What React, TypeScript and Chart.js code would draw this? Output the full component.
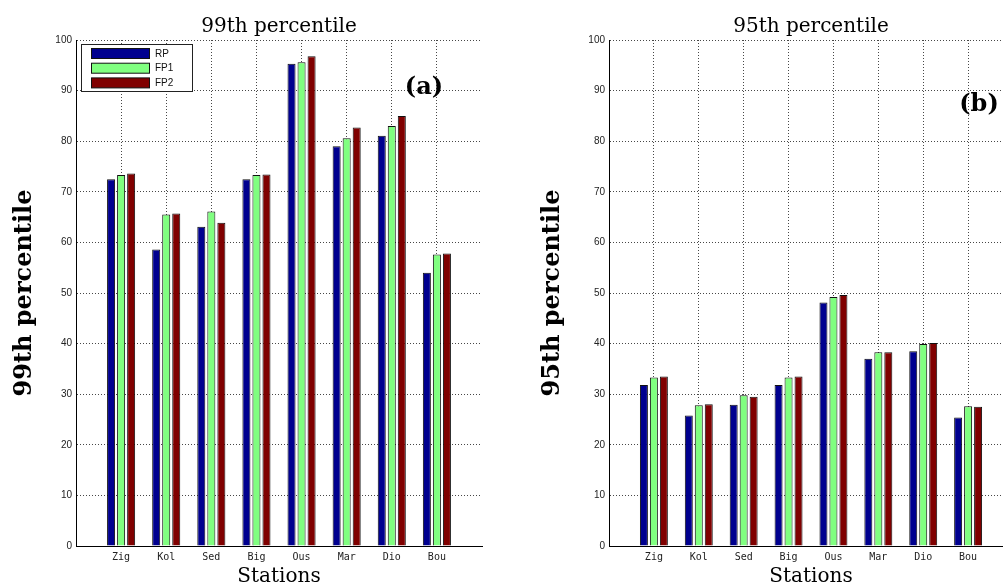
import React, { useEffect, useRef } from 'react';
import { Chart, registerables } from 'chart.js';

Chart.register(...registerables);

// Station codes along the x axis (positions 1..8, axis runs 0..9)
const stations = ['Zig', 'Kol', 'Sed', 'Big', 'Ous', 'Mar', 'Dio', 'Bou'];

const seriesNames = ['RP', 'FP1', 'FP2'];
const seriesColors = ['#00008f', '#80ff80', '#800000'];

// 99th percentile per station
const p99RP = [72.5, 58.6, 63.1, 72.5, 95.3, 79.0, 81.1, 54.0];
const p99FP1 = [73.3, 65.5, 66.1, 73.3, 95.6, 80.6, 83.0, 57.6];
const p99FP2 = [73.6, 65.7, 63.9, 73.4, 96.8, 82.7, 85.0, 57.8];

// 95th percentile per station
const p95RP = [31.8, 25.8, 27.9, 31.8, 48.1, 37.0, 38.5, 25.4];
const p95FP1 = [33.3, 27.8, 29.8, 33.3, 49.2, 38.3, 39.9, 27.6];
const p95FP2 = [33.5, 28.0, 29.5, 33.5, 49.6, 38.3, 40.1, 27.5];

const yMin = 0;
const yMax = 100;
const yStep = 10;

const SERIF = "'DejaVu Serif', serif";
const GRID = 'rgba(0,0,0,0.72)';

// Draws the panel heading, the corner tag and (optionally) the boxed legend
const panelDecor = {
  id: 'panelDecor',
  afterDraw(chart: any, _args: any, opts: any) {
    const { ctx, chartArea } = chart;
    ctx.save();
    ctx.fillStyle = '#000';
    ctx.textAlign = 'center';
    ctx.textBaseline = 'alphabetic';
    ctx.font = `20px ${SERIF}`;
    ctx.fillText(opts.title, (chartArea.left + chartArea.right) / 2, 32);

    ctx.font = `bold 24px ${SERIF}`;
    ctx.fillText(opts.tag, opts.tagX, opts.tagY);

    if (opts.legend) {
      const bx = 81.5, by = 44.5, bw = 111, bh = 47;
      ctx.fillStyle = '#fff';
      ctx.fillRect(bx, by, bw, bh);
      ctx.strokeStyle = '#222';
      ctx.lineWidth = 1;
      ctx.strokeRect(bx, by, bw, bh);
      ctx.font = "10px 'Liberation Sans', sans-serif";
      ctx.textAlign = 'left';
      ctx.textBaseline = 'middle';
      seriesNames.forEach((name, i) => {
        const sy = 48.5 + i * 14.7;
        ctx.fillStyle = seriesColors[i];
        ctx.fillRect(91.5, sy, 58, 10);
        ctx.strokeStyle = '#111';
        ctx.strokeRect(91.5, sy, 58, 10);
        ctx.fillStyle = '#111';
        ctx.fillText(name, 155, sy + 5.5);
      });
    }
    ctx.restore();
  },
};

function makeConfig(
  values: number[][],
  yLabel: string,
  yWidth: number,
  padRight: number,
  decor: any
): any {
  return {
    type: 'bar',
    data: {
      datasets: seriesNames.map((name, s) => ({
        label: name,
        data: values[s].map((v, i) => ({ x: i + 1, y: v })),
        backgroundColor: seriesColors[s],
        borderColor: '#111',
        borderWidth: 1,
        borderSkipped: 'bottom',
        categoryPercentage: 0.667,
        barPercentage: 0.8,
      })),
    },
    options: {
      responsive: false,
      animation: false,
      devicePixelRatio: 1,
      layout: { padding: { top: 40, right: padRight, left: 0, bottom: 0 } },
      plugins: {
        legend: { display: false },
        tooltip: { enabled: false },
        panelDecor: decor,
      },
      scales: {
        x: {
          type: 'linear',
          min: 0,
          max: stations.length + 1,
          offset: false,
          afterFit: (s: any) => {
            s.height = 39;
          },
          ticks: {
            stepSize: 1,
            autoSkip: false,
            maxRotation: 0,
            padding: 5,
            color: '#222',
            font: { family: "'DejaVu Sans Mono', monospace", size: 10 },
            callback: (v: any) => stations[Number(v) - 1] ?? '',
          },
          grid: {
            offset: false,
            drawTicks: false,
            lineWidth: 1,
            color: (c: any) =>
              c.tick && c.tick.value >= 1 && c.tick.value <= stations.length ? GRID : 'rgba(0,0,0,0)',
          },
          border: { display: true, color: '#000', width: 1, dash: [1, 2] },
          title: {
            display: true,
            text: 'Stations',
            color: '#000',
            font: { family: SERIF, size: 20, lineHeight: 0.8 },
            padding: 0,
          },
        },
        y: {
          min: yMin,
          max: yMax,
          afterFit: (s: any) => {
            s.width = yWidth;
          },
          ticks: {
            stepSize: yStep,
            padding: 4,
            color: '#222',
            font: { family: "'Liberation Sans', sans-serif", size: 10 },
          },
          grid: { drawTicks: false, lineWidth: 1, color: GRID },
          border: { display: true, color: '#000', width: 1, dash: [1, 2] },
          title: {
            display: true,
            text: yLabel,
            color: '#000',
            font: { family: SERIF, size: 24, weight: 'bold' },
            padding: { top: 10, bottom: 0 },
          },
        },
      },
    },
    plugins: [panelDecor],
  };
}

export default function App() {
  const leftRef = useRef<HTMLCanvasElement | null>(null);
  const rightRef = useRef<HTMLCanvasElement | null>(null);

  useEffect(() => {
    const left = new Chart(
      leftRef.current as HTMLCanvasElement,
      makeConfig([p99RP, p99FP1, p99FP2], '99th percentile', 76, 18, {
        title: '99th percentile',
        tag: '(a)',
        tagX: 424,
        tagY: 94,
        legend: true,
      })
    );
    const right = new Chart(
      rightRef.current as HTMLCanvasElement,
      makeConfig([p95RP, p95FP1, p95FP2], '95th percentile', 81, 10, {
        title: '95th percentile',
        tag: '(b)',
        tagX: 451,
        tagY: 111,
        legend: false,
      })
    );
    return () => {
      left.destroy();
      right.destroy();
    };
  }, []);

  return (
    <div
      style={{
        position: 'absolute',
        left: 0,
        top: 0,
        width: 1003,
        height: 585,
        overflow: 'hidden',
        background: '#fff',
      }}
    >
      <canvas
        ref={leftRef}
        width={500}
        height={585}
        style={{ position: 'absolute', left: 0, top: 0, width: 500, height: 585 }}
      />
      <canvas
        ref={rightRef}
        width={495}
        height={585}
        style={{ position: 'absolute', left: 528, top: 0, width: 495, height: 585 }}
      />
    </div>
  );
}
